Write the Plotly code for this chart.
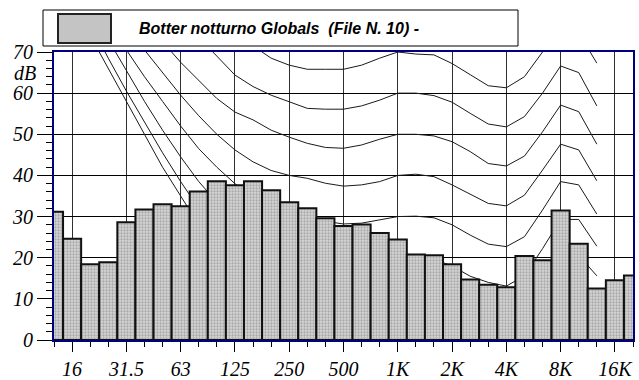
import plotly.graph_objects as go

# 1/3-octave bands shown on the x axis (12.5 Hz .. 20 kHz)
bands = ["12.5", "16", "20", "25", "31.5", "40", "50", "63", "80", "100", "125", "160",
         "200", "250", "315", "400", "500", "630", "800", "1K", "1.25K", "1.6K", "2K",
         "2.5K", "3.15K", "4K", "5K", "6.3K", "8K", "10K", "12.5K", "16K", "20K"]

# measured spectrum (dB)
levels = [31.2, 24.6, 18.4, 18.9, 28.6, 31.7, 33.0, 32.5, 36.1, 38.6, 37.6, 38.6, 36.4,
          33.5, 32.0, 29.6, 27.7, 28.1, 26.0, 24.4, 20.8, 20.6, 18.4, 14.7, 13.4, 12.8,
          20.4, 19.4, 31.5, 23.4, 12.5, 14.5, 15.7]

# equal-loudness contours, 20 Hz .. 12.5 kHz
curve_bands = bands[2:31]
phon_0 = [74, 66, 58, 50, 42, 35, 28, 23, 18, 14, 11, 8.5, 6.5, 5, 4, 3.5, 3.3, 3.5, 3.5,
          2.5, 0.5, -1.5, -3, -3.5, -1, 4, 11, 12.5, 8.5]
phon_10 = [77, 68.5, 60.5, 53, 45.5, 38.5, 32, 26.5, 21.5, 18, 15.5, 13.5, 12, 11, 10.5, 10,
           10, 10, 10, 9.5, 8, 6, 4.5, 4, 6, 12, 19, 20.6, 15.6]
phon_20 = [81, 73, 65.5, 58, 51, 44.5, 38.5, 33.5, 29.5, 26, 23.5, 22, 21, 20.3, 19.8, 19.6,
           19.7, 20, 20, 19.6, 18, 15.5, 14, 13.1, 15.6, 22.2, 29.3, 29.3, 22.8]
phon_30 = [85, 77.5, 70.5, 64, 58, 52, 46.5, 42, 38, 34.5, 32, 30.5, 29.5, 28.8, 28.2, 28.4,
           29.2, 30, 30.1, 29.7, 28, 25.5, 23.3, 22.7, 25.1, 31.6, 38.5, 37.7, 30.6]
phon_40 = [91, 84, 77, 70.5, 65, 59.5, 54.5, 50, 46.2, 43.3, 41.2, 40, 39.3, 38.1, 37.4, 37.7,
           38.5, 40, 40.3, 39.7, 37.7, 35.5, 33.2, 32.6, 35.2, 41.3, 47.6, 46.2, 38.7]
phon_50 = [97, 90, 84, 78, 72.5, 67.5, 63, 58.7, 55.4, 53.5, 51, 49.3, 47.8, 46.8, 46.6, 47.4,
           48.8, 50, 50, 49.6, 48.2, 45.8, 42.9, 42.3, 44.7, 50.6, 57.1, 55.5, 47.6]
phon_60 = [106, 100, 94, 88.5, 83.5, 78.5, 73.5, 69, 64.4, 61.6, 59.5, 57.9, 56.3, 56.1, 56.1,
           56.9, 58.3, 60, 60, 59.4, 57.8, 55.1, 52.5, 51.8, 54.3, 60, 66.6, 65, 56.9]
phon_70 = [110, 105, 100, 95, 91, 87, 83, 79, 75, 71.5, 68.5, 66.8, 65.8, 65.8, 65.8, 66.8,
           68.5, 70, 69.5, 69.3, 67.2, 64.5, 61.8, 61.3, 64, 70, 76, 74.6, 67.3]

tick_labels = ["16", "31.5", "63", "125", "250", "500", "1K", "2K", "4K", "8K", "16K"]
y_ticks = [0, 10, 20, 30, 40, 50, 60, 70]
legend_text = "Botter notturno Globals\u00a0\u00a0(File N. 10) -"

bar_x = list(range(len(bands)))
curve_x = [bands.index(b) for b in curve_bands]
tick_x = [bands.index(t) for t in tick_labels]

fig = go.Figure()
for ys in [phon_0, phon_10, phon_20, phon_30, phon_40, phon_50, phon_60, phon_70]:
    fig.add_trace(go.Scatter(x=curve_x, y=ys, mode="lines",
                             line=dict(color="#1a1a1a", width=1), showlegend=False,
                             hoverinfo="skip"))

# bars on an overlaid subplot so they hide the contours
fig.add_trace(go.Bar(
    x=bar_x, y=levels, width=1.0, showlegend=False, xaxis="x2", yaxis="y2",
    hoverinfo="skip",
    marker=dict(color="#c4c4c4",
                line=dict(color="#111111", width=2),
                pattern=dict(shape=".", fgcolor="#7a7a7a", bgcolor="#d6d6d6",
                             size=3, solidity=0.45)),
))

serif_it = dict(family="Liberation Serif, Times New Roman, serif", size=20,
                color="black", style="italic")

X_RANGE = [0, 32]
Y_RANGE = [0, 70]

fig.update_layout(
    width=639, height=380,
    margin=dict(l=54, r=6, t=52, b=40, autoexpand=False),
    paper_bgcolor="white", plot_bgcolor="white",
    bargap=0,
    showlegend=False,
    hovermode=False,
    xaxis=dict(
        range=X_RANGE, tickmode="array", tickvals=tick_x, ticktext=tick_labels,
        ticks="outside", ticklen=10, tickwidth=1, tickcolor="black", automargin=False,
        tickfont=serif_it, showgrid=True, gridcolor="#303030", gridwidth=1,
        zeroline=False, showline=True, linecolor="#000080", linewidth=2, mirror=True,
        minor=dict(tickmode="linear", tick0=0, dtick=1, ticks="outside", ticklen=5,
                   tickcolor="black", tickwidth=1, showgrid=False),
    ),
    yaxis=dict(
        range=Y_RANGE, tickmode="array", tickvals=y_ticks,
        ticks="outside", ticklen=15, tickwidth=1, tickcolor="black", automargin=False,
        tickfont=serif_it, showgrid=True, gridcolor="black", gridwidth=1,
        zeroline=False, showline=True, linecolor="#000080", linewidth=2, mirror=True,
        minor=dict(tickmode="linear", tick0=0, dtick=2, ticks="outside", ticklen=6,
                   tickcolor="black", tickwidth=1, showgrid=False),
    ),
    xaxis2=dict(overlaying="x", range=X_RANGE, visible=False, automargin=False),
    yaxis2=dict(overlaying="y", range=Y_RANGE, visible=False, automargin=False),
)

# "dB" unit label
fig.add_annotation(xref="paper", yref="paper", x=-0.028, y=(340 - 73) / 288,
                   xanchor="right", yanchor="middle", text="dB", showarrow=False,
                   font=serif_it)

# legend box
def px_x(p):
    return (p - 54) / 579.0

def px_y(p):
    return (340 - p) / 288.0

fig.add_shape(type="rect", xref="paper", yref="paper",
              x0=px_x(43), x1=px_x(518), y0=px_y(46), y1=px_y(10),
              line=dict(color="black", width=1), fillcolor="white")
fig.add_shape(type="rect", xref="paper", yref="paper",
              x0=px_x(58), x1=px_x(111), y0=px_y(43), y1=px_y(14),
              line=dict(color="#222", width=2), fillcolor="#c4c4c4")
fig.add_annotation(xref="paper", yref="paper", x=px_x(137), y=px_y(28),
                   xanchor="left", yanchor="middle", text=legend_text, showarrow=False,
                   font=dict(family="Liberation Sans, Arial, sans-serif", size=16,
                             color="black", weight="bold", style="italic"))

fig.write_html("out.html", config={"displayModeBar": False, "staticPlot": True},
               post_script="document.body.style.margin='0';")
